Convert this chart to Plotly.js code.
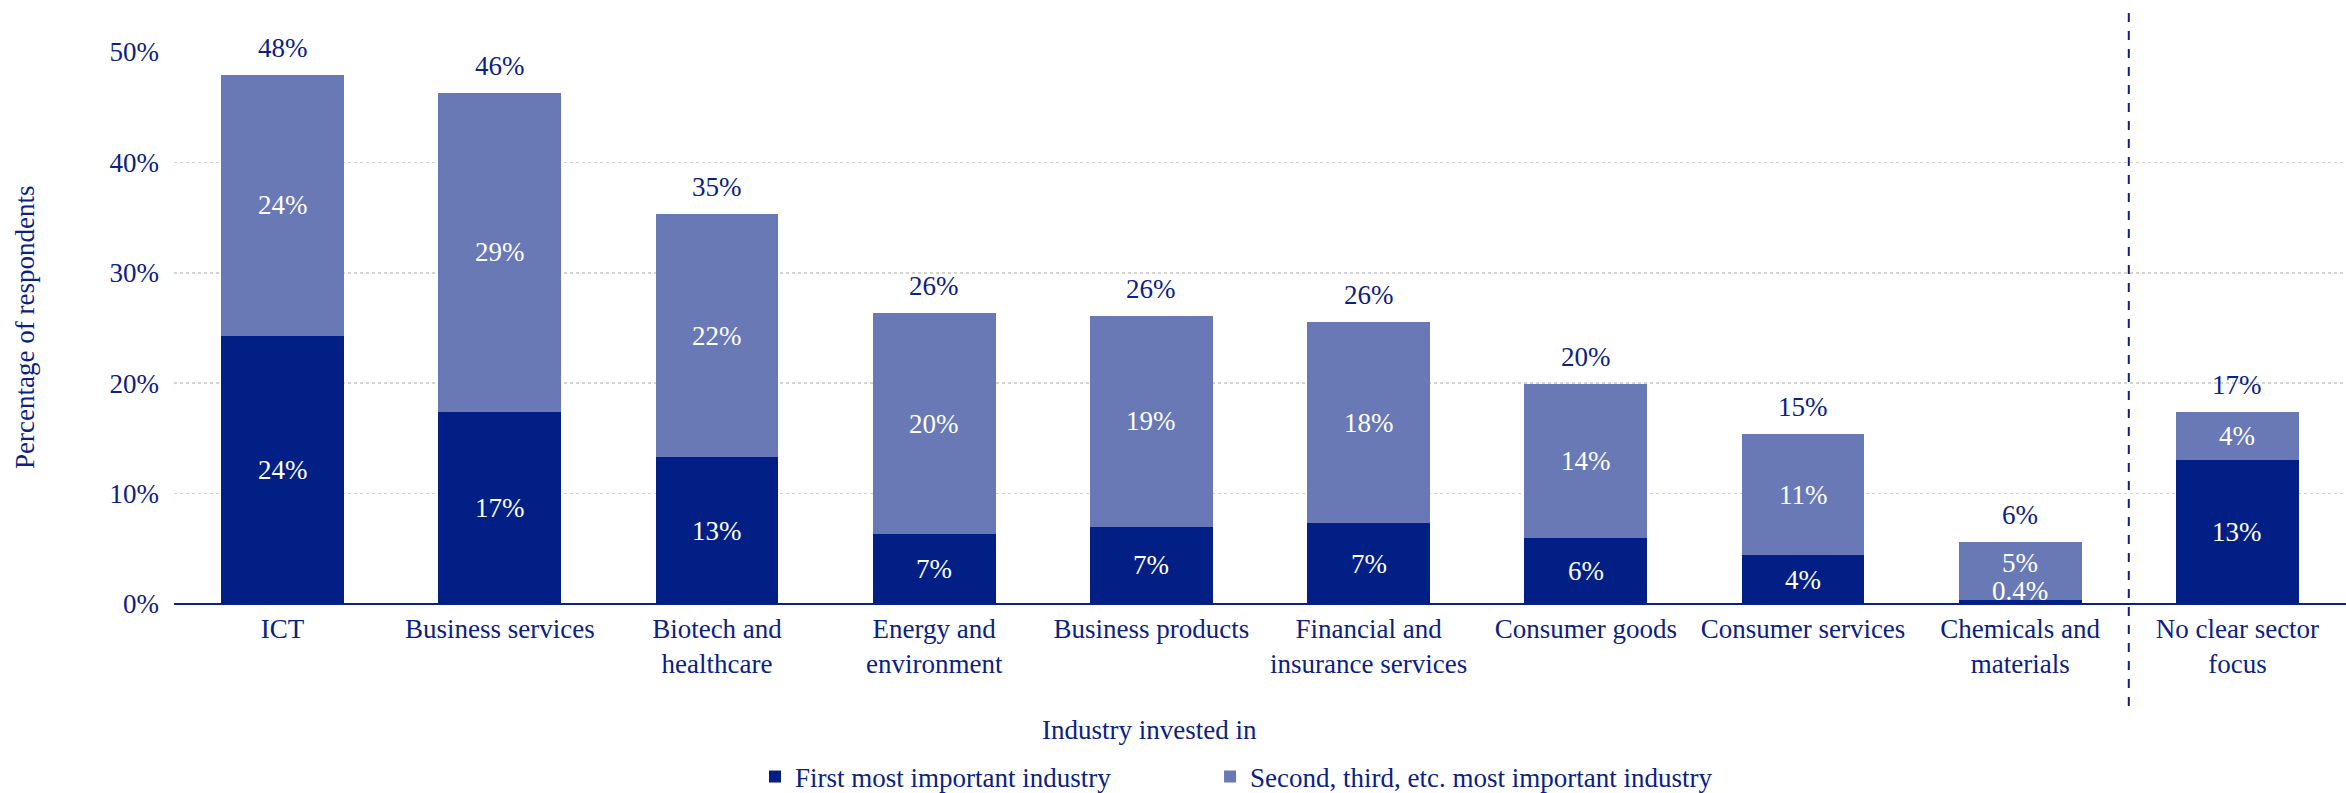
<!DOCTYPE html>
<html>
<head>
<meta charset="utf-8">
<script src="https://cdn.plot.ly/plotly-3.0.1.min.js"></script>
<style>html,body{margin:0;padding:0;background:#fff;}#chart{width:2346px;height:793px;}</style>
</head>
<body>
<div id="chart"></div>
<script>
const categories = ["ICT", "Business services", "Biotech and<br>healthcare", "Energy and<br>environment", "Business products", "Financial and<br>insurance services", "Consumer goods", "Consumer services", "Chemicals and<br>materials", "No clear sector<br>focus"];
const firstIndustry = [24.3, 17.4, 13.3, 6.3, 7.0, 7.3, 6.0, 4.4, 0.4, 13.0];
const otherIndustry = [23.6, 28.9, 22.0, 20.1, 19.1, 18.2, 13.9, 11.0, 5.2, 4.4];
const firstLabels = ["24%", "17%", "13%", "7%", "7%", "7%", "6%", "4%", "0.4%", "13%"];
const otherLabels = ["24%", "29%", "22%", "20%", "19%", "18%", "14%", "11%", "5%", "4%"];
const totalLabels = ["48%", "46%", "35%", "26%", "26%", "26%", "20%", "15%", "6%", "17%"];
const seriesNames = ["First most important industry", "Second, third, etc. most important industry"];
const yTicks = [0, 10, 20, 30, 40, 50];

const DARK = "#021F85";
const LIGHT = "#6979B5";
const NAVY = "#0B2183";
const FONT = "'Liberation Serif', 'Times New Roman', serif";
const FS = 27;

const traces = [
  {type: "bar", x: categories, y: firstIndustry, name: seriesNames[0], marker: {color: DARK}, width: 0.565, showlegend: false, hoverinfo: "none"},
  {type: "bar", x: categories, y: otherIndustry, name: seriesNames[1], marker: {color: LIGHT}, width: 0.565, showlegend: false, hoverinfo: "none"},
  {type: "scatter", mode: "markers", x: [null], y: [null], name: seriesNames[0], legend: "legend", marker: {symbol: "square", size: 14, color: DARK}},
  {type: "scatter", mode: "markers", x: [null], y: [null], name: seriesNames[1], legend: "legend2", marker: {symbol: "square", size: 14, color: LIGHT}}
];

const annotations = [];
categories.forEach((c, i) => {
  const f = firstIndustry[i], o = otherIndustry[i];
  const small = f < 2;
  annotations.push({x: c, y: small ? 0 : f / 2, yanchor: small ? "bottom" : "middle", text: firstLabels[i], showarrow: false, font: {family: FONT, size: FS, color: "#ffffff"}, yshift: small ? -4 : 0});
  annotations.push({x: c, y: f + o / 2, yanchor: "middle", text: otherLabels[i], showarrow: false, font: {family: FONT, size: FS, color: "#ffffff"}, yshift: small ? 8 : 0});
  annotations.push({x: c, y: f + o, yanchor: "bottom", text: totalLabels[i], showarrow: false, font: {family: FONT, size: FS, color: NAVY}, yshift: 10});
});
annotations.push({xref: "paper", yref: "paper", x: 0.449, y: -0.228, xanchor: "center", yanchor: "middle", text: "Industry invested in", showarrow: false, font: {family: FONT, size: FS, color: NAVY}});
annotations.push({xref: "paper", yref: "paper", x: -0.0686, y: 0.5, xanchor: "center", yanchor: "middle", textangle: -90, text: "Percentage of respondents", showarrow: false, font: {family: FONT, size: FS, color: NAVY}});

const legendBase = {orientation: "h", xanchor: "left", yref: "container", y: 0.0202, yanchor: "middle", font: {family: FONT, size: FS, color: NAVY}, itemsizing: "constant", bgcolor: "rgba(0,0,0,0)"};

const layout = {
  width: 2346, height: 793,
  margin: {l: 174, r: 0, t: 52, b: 189, autoexpand: false},
  paper_bgcolor: "#ffffff", plot_bgcolor: "#ffffff",
  barmode: "stack",
  font: {family: FONT, size: FS, color: NAVY},
  xaxis: {type: "category", showgrid: false, showline: false, zeroline: false, ticks: "", ticklabelstandoff: 6, tickfont: {family: FONT, size: FS, color: NAVY}, range: [-0.5, 9.5], fixedrange: true, automargin: false},
  yaxis: {range: [0, 50], tickvals: yTicks, ticktext: yTicks.map(v => v + "%"), showgrid: true, gridcolor: "#d4d4d4", gridwidth: 1.5, griddash: "dot", zeroline: true, zerolinecolor: NAVY, zerolinewidth: 2.5, showline: false, ticks: "", ticklabelstandoff: 14, tickfont: {family: FONT, size: FS, color: NAVY}, fixedrange: true, automargin: false},
  shapes: [{type: "line", xref: "x", yref: "paper", x0: 8.5, x1: 8.5, y0: -0.185, y1: 1.082, line: {color: NAVY, width: 2, dash: "dash"}}],
  annotations: annotations,
  showlegend: true,
  legend: Object.assign({}, legendBase, {x: 0.2675}),
  legend2: Object.assign({}, legendBase, {x: 0.477})
};

Plotly.newPlot("chart", traces, layout, {displayModeBar: false, staticPlot: true});
</script>
</body>
</html>
